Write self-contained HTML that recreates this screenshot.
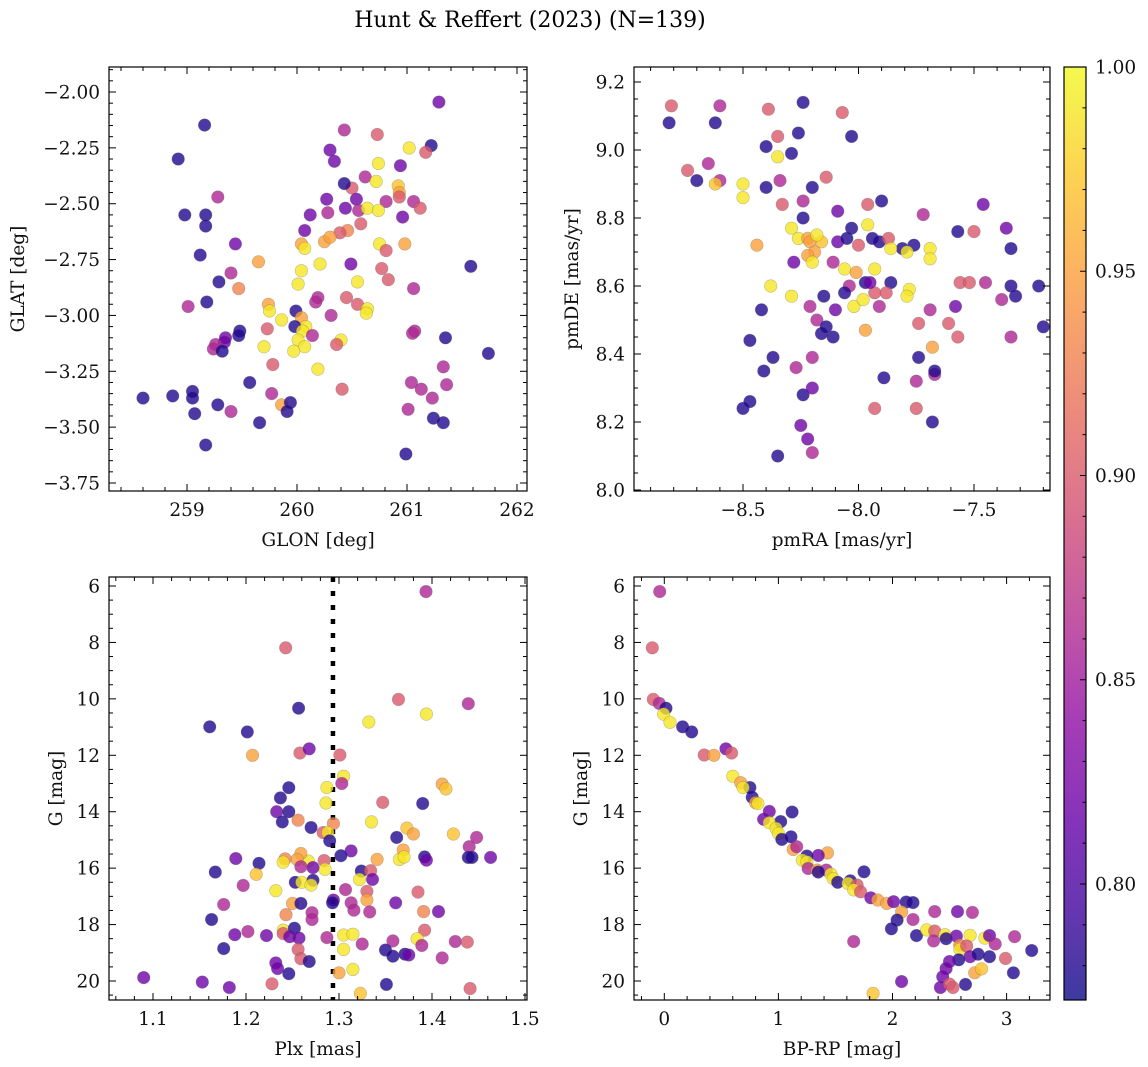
<!DOCTYPE html>
<html><head><meta charset="utf-8"><style>
html,body{margin:0;padding:0;background:#fff;}
svg{display:block;font-family:"DejaVu Serif","Liberation Serif",serif;}
</style></head><body>
<svg id="fig" width="1148" height="1067" viewBox="0 0 1148 1067" xmlns="http://www.w3.org/2000/svg">
<text x="530" y="27" font-size="22" text-anchor="middle">Hunt &amp; Reffert (2023) (N=139)</text>
</svg>
<script>
// probability codes: N=0.78 P=0.82 M=0.86 K=0.90 R=0.93 O=0.95 Q=0.97 Y=0.99
const tlLon=[261.29,259.16,258.92,260.30,260.34,260.43,260.73,261.02,261.22,261.17,260.74,260.94,260.50,260.43,260.62,260.72,260.92,260.93,260.93,260.27,260.54,260.81,261.06,259.28,258.98,259.17,259.17,260.28,260.44,260.56,260.64,260.74,261.12,260.96,260.12,260.58,260.46,260.07,260.39,260.04,260.07,260.25,260.30,260.75,260.81,260.98,259.44,259.12,259.65,260.21,260.04,260.49,259.40,260.77,260.83,260.55,260.01,261.06,259.47,259.29,261.58,260.19,260.45,260.17,259.18,259.01,259.74,259.75,259.86,259.99,260.55,260.64,260.63,260.04,260.31,260.08,259.98,259.73,260.05,260.14,260.40,260.01,260.07,259.70,260.36,259.97,259.48,259.47,259.35,259.34,259.26,259.24,259.32,261.07,261.05,261.35,261.74,261.33,260.19,259.78,259.57,261.04,261.13,261.36,260.41,259.77,258.60,258.87,259.05,259.05,259.86,259.94,259.28,259.40,259.91,259.07,259.66,261.01,261.23,261.24,261.33,259.17,260.99];
const tlLat=[-2.045,-2.148,-2.30,-2.26,-2.31,-2.17,-2.19,-2.25,-2.24,-2.27,-2.32,-2.33,-2.43,-2.41,-2.38,-2.40,-2.42,-2.45,-2.47,-2.48,-2.48,-2.49,-2.49,-2.47,-2.55,-2.55,-2.60,-2.54,-2.52,-2.53,-2.52,-2.53,-2.52,-2.56,-2.55,-2.59,-2.62,-2.62,-2.63,-2.68,-2.70,-2.67,-2.65,-2.68,-2.71,-2.68,-2.68,-2.73,-2.76,-2.77,-2.80,-2.77,-2.81,-2.79,-2.84,-2.85,-2.86,-2.88,-2.88,-2.85,-2.78,-2.92,-2.92,-2.94,-2.94,-2.96,-2.95,-2.98,-3.02,-2.98,-2.95,-2.97,-2.99,-3.01,-3.00,-3.05,-3.05,-3.06,-3.07,-3.09,-3.11,-3.11,-3.14,-3.14,-3.13,-3.16,-3.07,-3.09,-3.10,-3.12,-3.13,-3.15,-3.16,-3.07,-3.08,-3.10,-3.17,-3.23,-3.24,-3.22,-3.30,-3.30,-3.33,-3.31,-3.33,-3.35,-3.37,-3.36,-3.34,-3.37,-3.40,-3.39,-3.40,-3.43,-3.43,-3.44,-3.48,-3.42,-3.37,-3.46,-3.48,-3.58,-3.62];
const tlProb=[0.82,0.78,0.78,0.82,0.82,0.86,0.90,0.99,0.78,0.90,0.99,0.82,0.90,0.78,0.86,0.99,0.97,0.95,0.90,0.82,0.82,0.86,0.86,0.86,0.78,0.78,0.78,0.86,0.82,0.86,0.99,0.99,0.90,0.82,0.82,0.90,0.93,0.82,0.90,0.95,0.99,0.95,0.95,0.99,0.90,0.95,0.82,0.78,0.95,0.99,0.99,0.82,0.86,0.90,0.90,0.99,0.99,0.86,0.93,0.78,0.78,0.86,0.90,0.86,0.78,0.86,0.95,0.99,0.99,0.78,0.90,0.99,0.99,0.95,0.86,0.99,0.78,0.90,0.99,0.86,0.99,0.99,0.99,0.99,0.90,0.99,0.78,0.78,0.82,0.82,0.86,0.86,0.78,0.86,0.86,0.78,0.78,0.86,0.99,0.90,0.78,0.86,0.86,0.86,0.90,0.86,0.78,0.78,0.78,0.78,0.95,0.78,0.78,0.86,0.78,0.78,0.78,0.86,0.86,0.78,0.78,0.78,0.78];

const trRA=[-8.81,-8.82,-8.60,-8.62,-8.24,-8.39,-8.07,-8.35,-8.03,-8.26,-8.35,-8.40,-8.29,-8.74,-8.65,-8.70,-8.60,-8.62,-8.50,-8.50,-8.40,-8.34,-8.20,-8.14,-8.33,-8.24,-8.09,-8.24,-7.96,-7.90,-7.96,-8.03,-8.29,-8.26,-8.16,-8.22,-8.21,-8.18,-8.44,-8.09,-8.05,-8.19,-8.22,-8.06,-8.00,-7.94,-7.91,-7.87,-7.81,-7.76,-7.86,-7.79,-7.69,-7.69,-7.57,-7.50,-7.46,-7.36,-7.34,-7.34,-7.38,-7.32,-7.22,-7.20,-7.34,-7.57,-7.58,-7.69,-7.56,-7.52,-7.45,-7.74,-7.61,-7.68,-7.67,-7.74,-7.67,-7.75,-7.89,-7.68,-7.75,-7.93,-8.24,-8.25,-8.22,-8.20,-8.35,-8.50,-8.47,-8.41,-8.37,-8.20,-8.27,-8.20,-8.47,-8.42,-8.38,-8.21,-8.15,-8.18,-8.16,-8.10,-8.02,-7.98,-7.93,-7.97,-7.86,-7.78,-7.79,-7.88,-7.91,-7.97,-8.11,-8.14,-8.28,-8.20,-8.11,-8.01,-8.04,-8.06,-7.95,-7.93,-8.29,-7.72];
const trDE=[9.13,9.08,9.13,9.08,9.14,9.12,9.11,9.04,9.04,9.05,8.98,9.01,8.99,8.94,8.96,8.91,8.91,8.90,8.90,8.86,8.89,8.91,8.89,8.92,8.84,8.85,8.82,8.80,8.84,8.85,8.78,8.77,8.77,8.74,8.73,8.74,8.73,8.75,8.72,8.73,8.74,8.70,8.69,8.65,8.72,8.74,8.73,8.74,8.71,8.72,8.71,8.70,8.71,8.68,8.76,8.76,8.84,8.77,8.71,8.60,8.56,8.57,8.60,8.48,8.45,8.45,8.54,8.53,8.61,8.61,8.61,8.49,8.49,8.42,8.34,8.39,8.35,8.32,8.33,8.20,8.24,8.24,8.28,8.19,8.15,8.11,8.10,8.24,8.26,8.35,8.39,8.39,8.36,8.30,8.44,8.53,8.60,8.54,8.57,8.50,8.46,8.53,8.54,8.56,8.58,8.61,8.61,8.59,8.57,8.58,8.54,8.47,8.45,8.48,8.67,8.67,8.67,8.64,8.60,8.58,8.61,8.65,8.57,8.81];
const trProb=[0.90,0.78,0.86,0.78,0.78,0.90,0.90,0.90,0.78,0.78,0.99,0.78,0.78,0.90,0.86,0.78,0.86,0.97,0.99,0.99,0.78,0.86,0.78,0.90,0.90,0.86,0.82,0.78,0.90,0.78,0.99,0.78,0.99,0.99,0.97,0.95,0.95,0.99,0.95,0.82,0.78,0.95,0.95,0.99,0.90,0.78,0.78,0.90,0.78,0.78,0.99,0.99,0.99,0.99,0.78,0.90,0.82,0.82,0.78,0.78,0.86,0.78,0.78,0.78,0.86,0.90,0.82,0.86,0.90,0.90,0.86,0.90,0.90,0.95,0.86,0.78,0.78,0.86,0.78,0.78,0.90,0.90,0.78,0.82,0.82,0.86,0.78,0.78,0.78,0.78,0.78,0.86,0.86,0.82,0.78,0.78,0.99,0.86,0.78,0.86,0.78,0.82,0.99,0.99,0.90,0.78,0.78,0.99,0.99,0.90,0.86,0.95,0.78,0.78,0.82,0.99,0.86,0.95,0.86,0.78,0.82,0.99,0.99,0.86];

const blPlx=[1.3935,1.2427,1.364,1.439,1.394,1.332,1.2566,1.161,1.2014,1.207,1.258,1.268,1.301,1.305,1.303,1.287,1.286,1.246,1.237,1.233,1.246,1.239,1.256,1.270,1.294,1.283,1.288,1.290,1.347,1.390,1.411,1.415,1.335,1.373,1.380,1.423,1.448,1.440,1.362,1.369,1.365,1.370,1.392,1.394,1.439,1.443,1.463,1.313,1.302,1.341,1.324,1.334,1.336,1.322,1.307,1.330,1.330,1.313,1.316,1.333,1.361,1.385,1.391,1.407,1.392,1.384,1.389,1.358,1.425,1.438,1.350,1.358,1.371,1.375,1.411,1.351,1.441,1.305,1.315,1.305,1.315,1.300,1.323,1.325,1.294,1.293,1.287,1.284,1.285,1.267,1.272,1.259,1.255,1.259,1.242,1.240,1.253,1.260,1.272,1.270,1.232,1.250,1.259,1.243,1.271,1.271,1.240,1.240,1.252,1.247,1.257,1.256,1.259,1.268,1.232,1.234,1.246,1.228,1.214,1.211,1.189,1.167,1.197,1.176,1.163,1.188,1.202,1.222,1.176,1.090,1.153,1.182];
const blG=[6.2,8.19,10.02,10.17,10.54,10.82,10.33,10.99,11.17,12.0,11.92,11.77,11.99,12.74,13.0,13.14,13.69,13.15,13.51,14.0,14.0,14.36,14.3,14.56,14.42,14.74,14.74,15.03,13.67,13.71,13.02,13.19,14.36,14.58,14.79,14.79,14.91,15.24,14.91,15.36,15.69,15.6,15.6,15.72,15.62,15.62,15.62,15.39,15.56,15.69,16.1,16.09,16.4,16.4,16.76,16.82,17.13,17.23,17.49,17.55,17.23,16.85,17.54,17.54,18.2,18.5,18.74,18.58,18.6,18.62,18.9,19.12,19.05,19.08,19.18,20.12,20.27,18.37,18.34,18.88,19.59,19.71,20.44,18.69,17.13,17.23,18.46,15.73,16.04,15.75,15.98,15.48,15.69,15.95,15.67,15.79,16.5,16.5,16.43,16.6,16.8,17.25,17.25,17.65,17.58,17.82,18.2,18.32,18.13,18.43,18.48,18.88,19.21,19.31,19.36,19.56,19.74,20.1,15.83,16.22,15.66,16.14,16.61,17.29,17.82,18.36,18.25,18.39,18.85,19.88,20.04,20.23];
const blProb=[0.86,0.90,0.90,0.86,0.99,0.99,0.78,0.78,0.78,0.95,0.90,0.82,0.90,0.99,0.86,0.99,0.99,0.78,0.78,0.82,0.78,0.78,0.93,0.78,0.93,0.90,0.99,0.78,0.90,0.78,0.95,0.97,0.99,0.97,0.95,0.97,0.86,0.86,0.78,0.95,0.99,0.99,0.78,0.82,0.78,0.78,0.82,0.82,0.78,0.95,0.78,0.90,0.82,0.99,0.86,0.90,0.95,0.86,0.86,0.86,0.82,0.90,0.93,0.82,0.90,0.99,0.86,0.86,0.86,0.90,0.78,0.78,0.78,0.82,0.86,0.78,0.90,0.99,0.99,0.99,0.99,0.95,0.97,0.86,0.82,0.78,0.86,0.90,0.99,0.99,0.82,0.95,0.95,0.86,0.93,0.99,0.78,0.99,0.78,0.99,0.99,0.95,0.78,0.93,0.86,0.86,0.99,0.90,0.78,0.82,0.82,0.90,0.90,0.78,0.82,0.82,0.78,0.90,0.78,0.97,0.82,0.78,0.86,0.86,0.78,0.82,0.86,0.82,0.78,0.82,0.82,0.82];

const brColor=[-0.04,-0.105,-0.096,-0.044,0.015,-0.006,0.05,0.16,0.24,0.35,0.435,0.54,0.59,0.60,0.67,0.75,0.69,0.77,0.80,0.82,1.12,0.92,0.87,1.02,0.92,0.98,1.0,1.03,1.11,1.13,1.16,1.43,1.35,1.25,1.21,1.25,1.26,1.34,1.42,1.35,1.46,1.48,1.52,1.63,1.61,1.69,1.66,1.72,1.75,1.81,1.87,1.95,2.01,2.12,2.18,2.08,2.04,1.99,2.18,2.21,2.37,2.57,2.70,1.66,2.30,2.37,2.36,2.46,2.47,2.56,2.68,2.81,2.85,2.90,3.07,2.59,2.59,2.65,2.68,2.75,2.85,2.99,3.22,2.58,2.50,2.47,2.44,2.42,2.50,2.53,2.64,2.72,2.78,3.06,2.08,1.83];
const brG=[6.2,8.19,10.02,10.16,10.33,10.54,10.83,10.99,11.17,11.99,12.0,11.77,11.92,12.74,12.97,13.14,13.14,13.49,13.68,13.71,14.01,13.99,14.27,14.35,14.39,14.59,14.77,14.98,14.89,15.34,15.24,15.46,15.55,15.57,15.72,15.78,16.01,16.07,16.07,16.14,16.21,16.37,16.5,16.45,16.54,16.6,16.77,16.84,16.13,17.05,17.13,17.25,17.19,17.2,17.22,17.55,17.84,18.15,17.82,18.39,17.54,17.54,17.57,18.6,18.19,18.23,18.58,18.36,18.5,18.41,18.38,18.48,18.39,18.69,18.43,18.73,18.88,18.76,19.14,19.05,19.14,19.2,18.92,19.25,19.31,19.56,19.85,20.23,20.11,20.23,20.12,19.71,19.57,19.71,20.02,20.44];
const brProb=[0.86,0.90,0.90,0.86,0.78,0.99,0.99,0.78,0.78,0.90,0.95,0.82,0.90,0.99,0.95,0.78,0.99,0.78,0.95,0.99,0.78,0.82,0.82,0.78,0.99,0.99,0.99,0.78,0.78,0.95,0.86,0.95,0.82,0.78,0.99,0.99,0.86,0.95,0.86,0.78,0.99,0.99,0.78,0.78,0.99,0.90,0.99,0.90,0.78,0.82,0.95,0.95,0.82,0.78,0.78,0.95,0.78,0.78,0.86,0.78,0.86,0.82,0.86,0.86,0.99,0.90,0.86,0.99,0.78,0.82,0.99,0.99,0.82,0.86,0.86,0.93,0.99,0.90,0.82,0.78,0.78,0.90,0.78,0.78,0.82,0.82,0.82,0.82,0.90,0.90,0.78,0.95,0.97,0.78,0.82,0.97];

const plxRef=1.2935;
const cbTicks=[0.80,0.85,0.90,0.95,1.00];
const cbMin=0.7716, cbMax=1.0;

const TICKFS=18.5, LABFS=18.5;
const NS="http://www.w3.org/2000/svg";
const svg=document.getElementById('fig');
function mk(tag,attrs,parent){const e=document.createElementNS(NS,tag);for(const k in attrs)e.setAttribute(k,attrs[k]);(parent||svg).appendChild(e);return e;}
const stops=["#0d0887","#41049d","#6a00a8","#8f0da4","#b12a90","#cc4778","#e16462","#f2844b","#fca636","#fcce25","#f0f921"];
function hex(h){return [parseInt(h.slice(1,3),16),parseInt(h.slice(3,5),16),parseInt(h.slice(5,7),16)];}
function plasma(t){t=Math.max(0,Math.min(1,t));const f=t*10,i=Math.min(9,Math.floor(f)),r=f-i;const a=hex(stops[i]),b=hex(stops[i+1]);return "rgb("+a.map((v,k)=>Math.round(v+(b[k]-v)*r)).join(",")+")";}
function cmap(p){return plasma((p-cbMin)/(cbMax-cbMin));}
function fmt(v,d){const s=Math.abs(v).toFixed(d);return (v<-1e-9?"\u2212":"")+s;}

function panel(cfg){
  const g=mk('g',{});
  
  
  const sx=v=>cfg.xa[1]+(v-cfg.xa[0])*(cfg.xb[1]-cfg.xa[1])/(cfg.xb[0]-cfg.xa[0]);
  const sy=v=>cfg.ya[1]+(v-cfg.ya[0])*(cfg.yb[1]-cfg.ya[1])/(cfg.yb[0]-cfg.ya[0]);
  const [x0,x1,y0,y1]=cfg.box;
  const inv=(p,a,b)=>a[0]+(p-a[1])*(b[0]-a[0])/(b[1]-a[1]);
  const xmin=Math.min(inv(x0,cfg.xa,cfg.xb),inv(x1,cfg.xa,cfg.xb)),xmax=Math.max(inv(x0,cfg.xa,cfg.xb),inv(x1,cfg.xa,cfg.xb));
  const ymin=Math.min(inv(y0,cfg.ya,cfg.yb),inv(y1,cfg.ya,cfg.yb)),ymax=Math.max(inv(y0,cfg.ya,cfg.yb),inv(y1,cfg.ya,cfg.yb));
  const clipId='clip-'+cfg.name;
  const cp=mk('clipPath',{id:clipId},g);mk('rect',{x:x0,y:y0,width:x1-x0,height:y1-y0},cp);
  const pts=mk('g',{'clip-path':'url(#'+clipId+')'},g);
  if(cfg.vline!==undefined){
    const l=mk('line',{x1:sx(cfg.vline),x2:sx(cfg.vline),y1:y0,y2:y1,stroke:'#000','stroke-width':4.5,'stroke-dasharray':'5,9'},pts);
    
    
  }
  for(let i=0;i<cfg.xs.length;i++){
    const c=mk('circle',{cx:sx(cfg.xs[i]).toFixed(1),cy:sy(cfg.ys[i]).toFixed(1),r:6.3,fill:cmap(cfg.ps[i]),'fill-opacity':0.8,stroke:'#555','stroke-opacity':0.35,'stroke-width':0.6},pts);
    
    
  }
  const tk=mk('g',{stroke:'#000','stroke-width':1},g);
  const eps=1e-9;
  for(let v=Math.ceil(xmin/cfg.xmin-eps)*cfg.xmin;v<=xmax+eps;v+=cfg.xmin){
    const X=sx(v);const maj=Math.abs(v/cfg.xmaj-Math.round(v/cfg.xmaj))<1e-6;const L=maj?7:4;
    mk('line',{x1:X,x2:X,y1:y1,y2:y1-L},tk);mk('line',{x1:X,x2:X,y1:y0,y2:y0+L},tk);
    if(maj){const t=mk('text',{x:X,y:y1+25,'font-size':TICKFS,'text-anchor':'middle',stroke:'none',fill:'#111'},g);t.textContent=fmt(Math.round(v/cfg.xmaj)*cfg.xmaj,cfg.xd);
      }
  }
  for(let v=Math.ceil(ymin/cfg.ymin-eps)*cfg.ymin;v<=ymax+eps;v+=cfg.ymin){
    const Y=sy(v);const maj=Math.abs(v/cfg.ymaj-Math.round(v/cfg.ymaj))<1e-6;const L=maj?7:4;
    mk('line',{x1:x0,x2:x0+L,y1:Y,y2:Y},tk);mk('line',{x1:x1,x2:x1-L,y1:Y,y2:Y},tk);
    if(maj){const t=mk('text',{x:x0-9,y:Y+6.5,'font-size':TICKFS,'text-anchor':'end',stroke:'none',fill:'#111'},g);t.textContent=fmt(Math.round(v/cfg.ymaj)*cfg.ymaj,cfg.yd);
      }
  }
  const fr=mk('rect',{x:x0,y:y0,width:x1-x0,height:y1-y0,fill:'none',stroke:'#000','stroke-width':1.2},g);
  
  const xl=mk('text',{x:(x0+x1)/2,y:y1+55,'font-size':LABFS,'text-anchor':'middle',fill:'#111'},g);xl.textContent=cfg.xlabel;
  
  const yl=mk('text',{x:cfg.ylx,y:(y0+y1)/2,'font-size':LABFS,'text-anchor':'middle',fill:'#111',transform:'rotate(-90 '+cfg.ylx+' '+((y0+y1)/2)+')'},g);yl.textContent=cfg.ylabel;
  
}

panel({name:'glon-glat-panel',box:[109,527,67,491],xa:[259,187],xb:[262,517],ya:[-2.0,92],yb:[-3.75,483],xmaj:1,xmin:0.2,xd:0,ymaj:0.25,ymin:0.05,yd:2,xs:tlLon,ys:tlLat,ps:tlProb,xlabel:'GLON [deg]',ylabel:'GLAT [deg]',ylx:24});
panel({name:'proper-motion-panel',box:[634,1050,67,491],xa:[-8.5,743],xb:[-7.5,974],ya:[9.2,82],yb:[8.0,490],xmaj:0.5,xmin:0.1,xd:1,ymaj:0.2,ymin:0.05,yd:1,xs:trRA,ys:trDE,ps:trProb,xlabel:'pmRA [mas/yr]',ylabel:'pmDE [mas/yr]',ylx:578});
panel({name:'parallax-mag-panel',box:[109,527,577,1000],xa:[1.1,153],xb:[1.5,525],ya:[6,586],yb:[20,981],xmaj:0.1,xmin:0.02,xd:1,ymaj:2,ymin:0.5,yd:0,xs:blPlx,ys:blG,ps:blProb,xlabel:'Plx [mas]',ylabel:'G [mag]',ylx:62,vline:plxRef});
panel({name:'cmd-panel',box:[634,1050,577,1000],xa:[0,664.3],xb:[3,1006.6],ya:[6,586],yb:[20,981],xmaj:1,xmin:0.2,xd:0,ymaj:2,ymin:0.5,yd:0,xs:brColor,ys:brG,ps:brProb,xlabel:'BP-RP [mag]',ylabel:'G [mag]',ylx:587});

const cb=mk('g',{});


const defs=mk('defs',{},cb);
const lg=mk('linearGradient',{id:'cbgrad',x1:0,y1:1,x2:0,y2:0},defs);
for(let i=0;i<=20;i++){mk('stop',{offset:i/20,'stop-color':plasma(i/20)},lg);}
const cbx0=1064,cbx1=1086,cby0=67,cby1=1000;
mk('rect',{x:cbx0,y:cby0,width:cbx1-cbx0,height:cby1-cby0,fill:'url(#cbgrad)','fill-opacity':0.8},cb);
const cys=v=>cby1-(v-cbMin)/(cbMax-cbMin)*(cby1-cby0);
for(let k=78;k<=100;k++){const v=k/100;const Y=cys(v);const maj=k%5===0;mk('line',{x1:cbx1,x2:cbx1-(maj?6:3.5),y1:Y,y2:Y,stroke:'#000','stroke-width':1},cb);}
cbTicks.forEach(v=>{const t=mk('text',{x:cbx1+9,y:cys(v)+6.5,'font-size':TICKFS,fill:'#111'},cb);t.textContent=v.toFixed(2);
  });
mk('rect',{x:cbx0,y:cby0,width:cbx1-cbx0,height:cby1-cby0,fill:'none',stroke:'#000','stroke-width':1.2},cb);
</script>
</body></html>
